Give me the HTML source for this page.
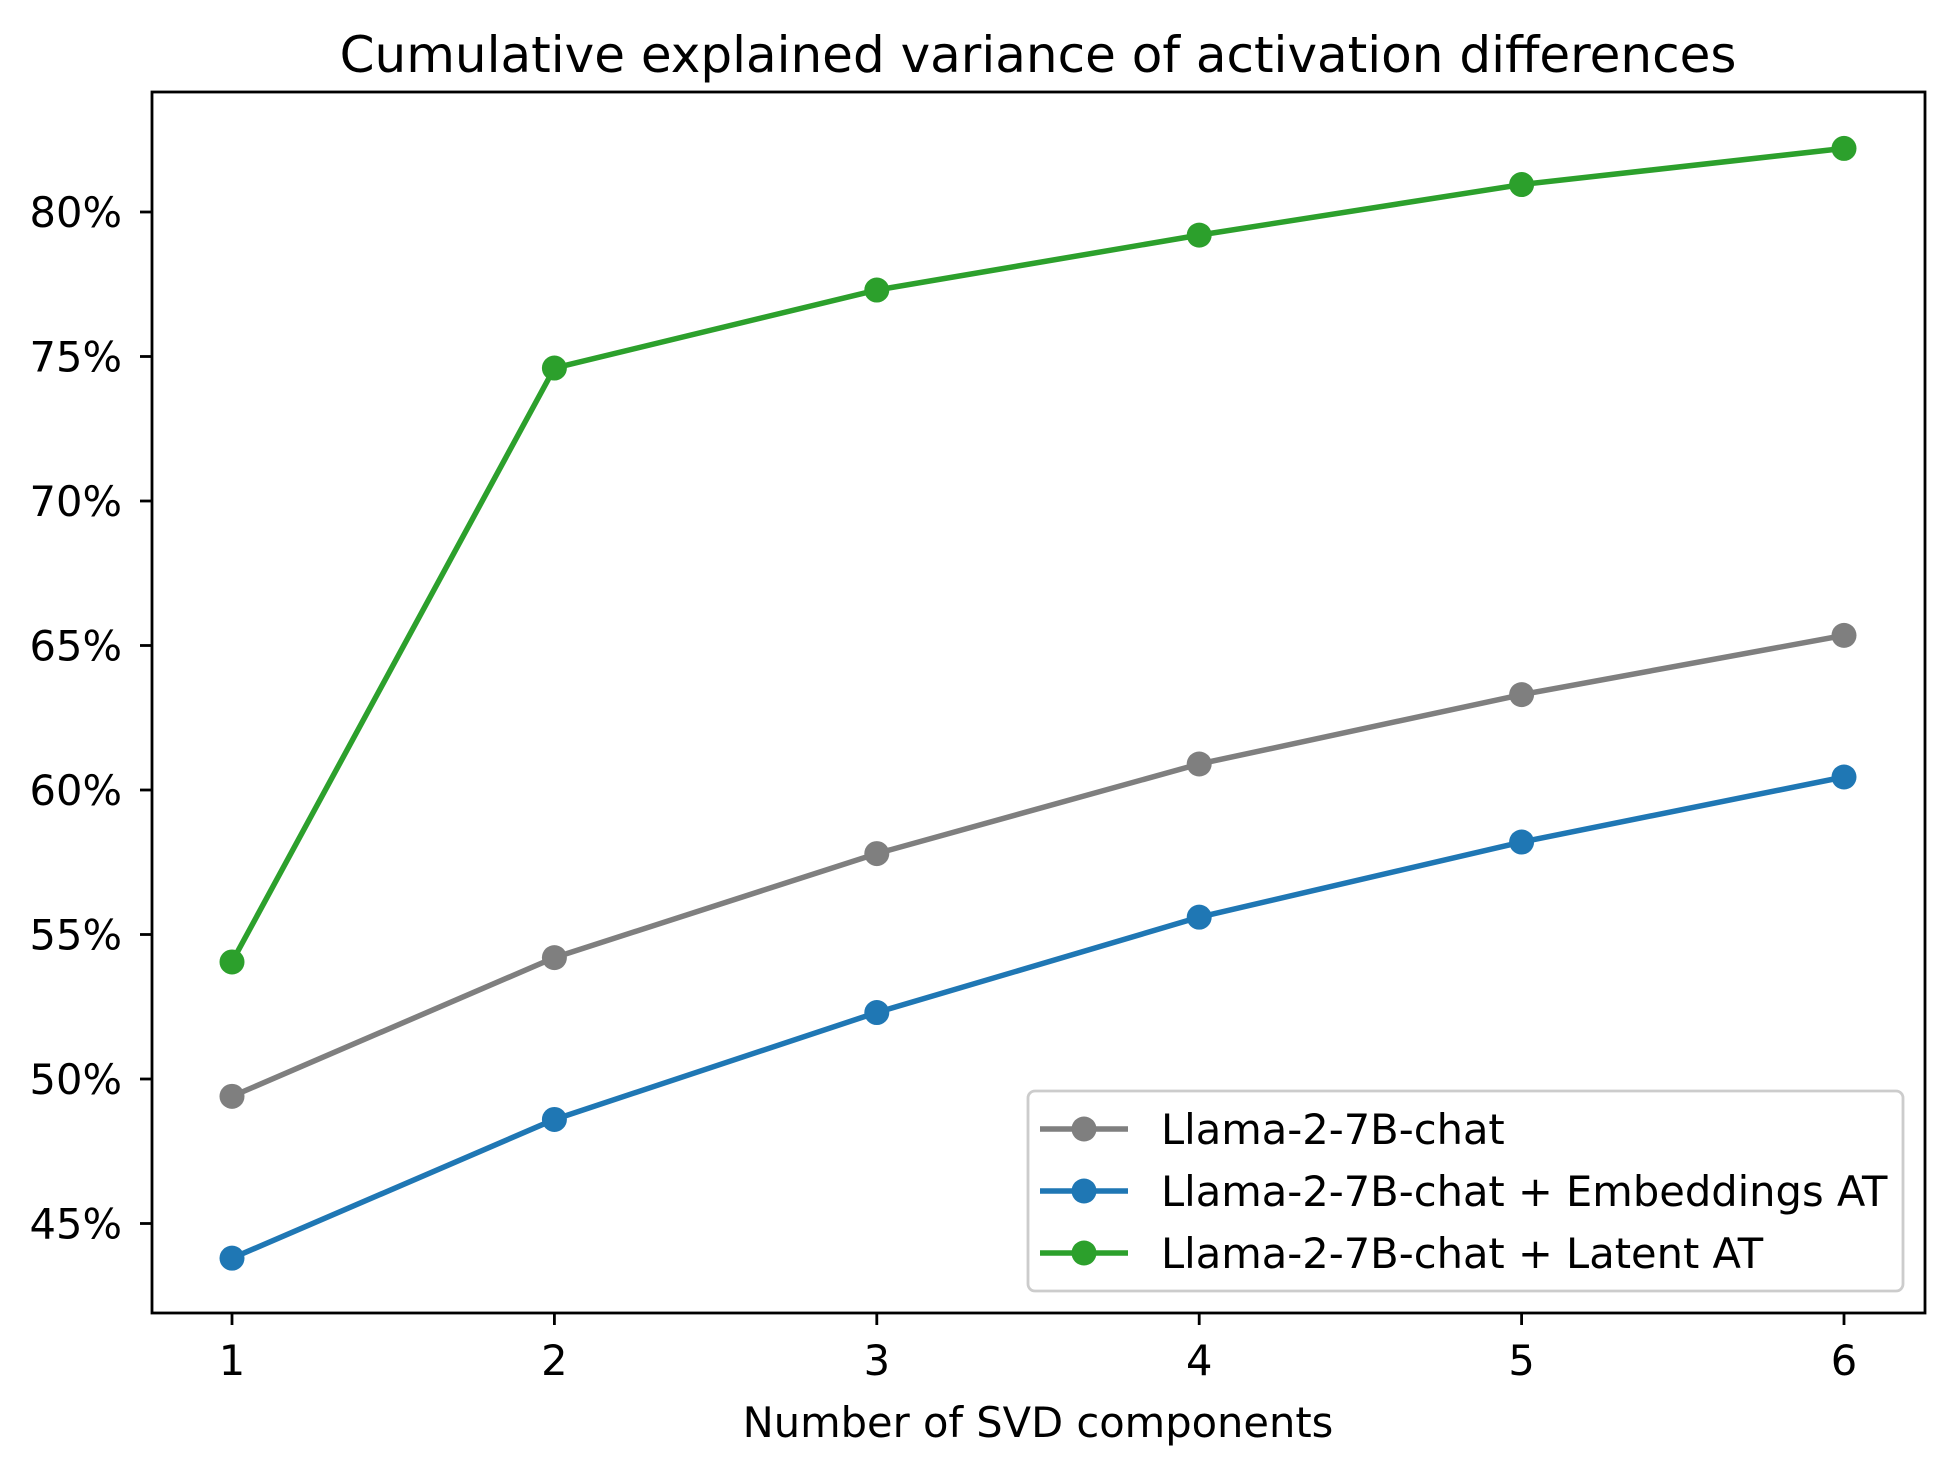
<!DOCTYPE html>
<html><head><meta charset="utf-8"><style>
html,body{margin:0;padding:0;background:#fff}
svg{display:block;font-family:"DejaVu Sans","Liberation Sans",sans-serif}
</style></head><body>
<svg id="chart" width="1954" height="1474" viewBox="0 0 1954 1474" xmlns="http://www.w3.org/2000/svg">
<rect width="1954" height="1474" fill="#fff"/>
<text x="1038" y="72" font-size="50" text-anchor="middle">Cumulative explained variance of activation differences</text>
<g id="plot"></g>
<text x="1038" y="1437" font-size="41.6" text-anchor="middle">Number of SVD components</text>
</svg>
<script>
const categories = [1, 2, 3, 4, 5, 6];
const yTicks = [45, 50, 55, 60, 65, 70, 75, 80];
const seriesNames = ["Llama-2-7B-chat", "Llama-2-7B-chat + Embeddings AT", "Llama-2-7B-chat + Latent AT"];
const seriesColors = ["#7f7f7f", "#1f77b4", "#2ca02c"];
const grayValues = [49.4, 54.2, 57.8, 60.9, 63.3, 65.35];
const blueValues = [43.8, 48.6, 52.3, 55.6, 58.2, 60.45];
const greenValues = [54.05, 74.6, 77.3, 79.2, 80.95, 82.2];

const NS = "http://www.w3.org/2000/svg";
const L = 152, R = 1925, T = 92, B = 1313;
function xs(v){ return 232 + (v - 1) * 322.4; }
function ys(v){ return 1223.5 - (v - 45) * 28.9; }
const g = document.getElementById('plot');
function mk(tag, attrs){ const e = document.createElementNS(NS, tag); for (const k in attrs) e.setAttribute(k, attrs[k]); g.appendChild(e); return e; }

categories.forEach(c => {
  const t = mk('line', {x1: xs(c), x2: xs(c), y1: B, y2: B + 12, stroke: '#000', 'stroke-width': 2.8});
  
  
  const tx = mk('text', {x: xs(c), y: B + 62, 'font-size': 41.6, 'text-anchor': 'middle'});
  tx.textContent = c;
  
  
});
yTicks.forEach(v => {
  const t = mk('line', {x1: L - 12, x2: L, y1: ys(v), y2: ys(v), stroke: '#000', 'stroke-width': 2.8});
  
  
  const tx = mk('text', {x: L - 30, y: ys(v) + 15, 'font-size': 41.6, 'text-anchor': 'end'});
  tx.textContent = v + '%';
  
  
});

const allSeries = [grayValues, blueValues, greenValues];
allSeries.forEach((vals, si) => {
  const pts = vals.map((v, i) => xs(categories[i]) + ',' + ys(v)).join(' ');
  const pl = mk('polyline', {points: pts, fill: 'none', stroke: seriesColors[si], 'stroke-width': 5.5, 'stroke-linejoin': 'round'});
  
  
  vals.forEach((v, i) => {
    const c = mk('circle', {cx: xs(categories[i]), cy: ys(v), r: 12.5, fill: seriesColors[si]});
    
    
  });
});

const frame = mk('rect', {x: L, y: T, width: R - L, height: B - T, fill: 'none', stroke: '#000', 'stroke-width': 2.8});



const lg = mk('rect', {x: 1028, y: 1091, width: 875, height: 200, rx: 7, fill: '#fff', 'fill-opacity': 0.8, stroke: '#ccc', 'stroke-width': 2.8});


const legY = [1129, 1191, 1253];
seriesNames.forEach((n, i) => {
  const ln = mk('line', {x1: 1040, x2: 1128, y1: legY[i], y2: legY[i], stroke: seriesColors[i], 'stroke-width': 5.5});
  
  
  const c = mk('circle', {cx: 1084, cy: legY[i], r: 12.5, fill: seriesColors[i]});
  
  
  const t = mk('text', {x: 1161, y: legY[i] + 15, 'font-size': 41.6});
  t.textContent = n;
  
  
});
</script>
</body></html>
